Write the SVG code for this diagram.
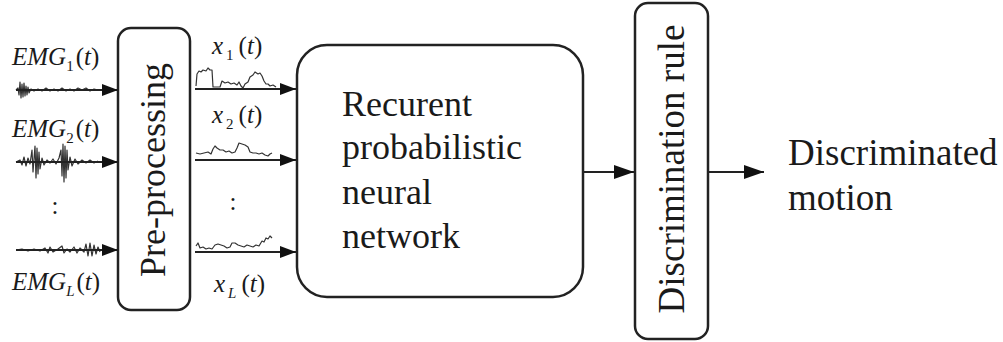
<svg xmlns="http://www.w3.org/2000/svg" width="1003" height="342" viewBox="0 0 1003 342">
  <style>
    .box { fill: #ffffff; stroke: #222222; stroke-width: 2.5; }
    .lbl { font-family: "Liberation Serif", "Times New Roman", serif; fill: #1a1a1a; }
    .big { font-size: 36px; }
    .sig { font-size: 25px; }
    .sub { font-size: 15px; }
    .it { font-style: italic; }
    .link { fill: none; stroke: #222222; stroke-width: 2; }
    .wave { fill: none; stroke: #333333; stroke-width: 1.2; stroke-linejoin: round; }
  </style>
  <defs>
    <marker id="head" markerUnits="userSpaceOnUse" markerWidth="20" markerHeight="14" refX="20" refY="7" orient="auto">
      <path d="M0,0 L20,7 L0,14 Z" fill="#111111"/>
    </marker>
    <marker id="headS" markerUnits="userSpaceOnUse" markerWidth="16" markerHeight="12" refX="16" refY="6" orient="auto">
      <path d="M0,0 L16,6 L0,12 Z" fill="#111111"/>
    </marker>
  </defs>

  <rect width="1003" height="342" fill="#ffffff"/>

  <!-- raw EMG inputs -->
  <g id="emg-inputs">
    <text class="lbl sig" x="12" y="65"><tspan class="it">EMG</tspan><tspan class="sub" dy="6">1</tspan><tspan dy="-6" dx="2">(</tspan><tspan class="it">t</tspan>)</text>
    <text class="lbl sig" x="12" y="137"><tspan class="it">EMG</tspan><tspan class="sub" dy="6">2</tspan><tspan dy="-6" dx="2">(</tspan><tspan class="it">t</tspan>)</text>
    <text class="lbl sig" x="55" y="214" text-anchor="middle">:</text>
    <text class="lbl sig" x="12" y="290"><tspan class="it">EMG</tspan><tspan class="sub it" dy="6">L</tspan><tspan dy="-6" dx="2">(</tspan><tspan class="it">t</tspan>)</text>
    <path class="wave" d="M16,90 L18,88 L19,95 L20,82 L21,98 L22,84 L23,97 L24,83 L25,96 L26,86 L27,95 L28,87 L29,93 L31,89 L34,91 L38,89 L42,91 L46,88 L50,91 L54,89 L58,91 L62,88 L66,91 L70,89 L74,91 L78,88 L82,90 L86,88 L90,91 L94,89 L98,90"/>
    <path class="wave" d="M16,162 L20,160 L22,165 L24,157 L26,166 L28,158 L30,164 L32,150 L33,172 L35,146 L36,178 L37,148 L38,174 L39,152 L40,169 L42,158 L44,165 L47,160 L50,163 L53,159 L56,164 L59,158 L61,150 L62,176 L63,144 L64,182 L65,146 L66,178 L67,150 L68,170 L70,157 L72,166 L75,159 L78,164 L82,160 L86,163 L90,160 L94,163 L98,161"/>
    <path class="wave" d="M16,250 L22,249 L28,251 L34,249 L40,251 L45,248 L48,253 L50,247 L53,252 L58,249 L62,246 L64,253 L67,249 L70,252 L74,247 L77,253 L80,248 L84,252 L86,244 L88,256 L90,243 L92,256 L94,245 L96,254 L98,247 L100,252"/>
  </g>

  <!-- pre-processing block -->
  <g id="preprocessing">
    <rect class="box" x="118" y="28" width="72" height="282" rx="13"/>
    <text class="lbl big" transform="translate(165,170) rotate(-90)" text-anchor="middle">Pre-processing</text>
  </g>

  <!-- pre-processed features -->
  <g id="features">
    <text class="lbl sig" x="212" y="54"><tspan class="it">x</tspan><tspan class="sub" dy="6" dx="3">1</tspan><tspan dy="-6" dx="5">(</tspan><tspan class="it">t</tspan>)</text>
    <text class="lbl sig" x="212" y="123"><tspan class="it">x</tspan><tspan class="sub" dy="6" dx="3">2</tspan><tspan dy="-6" dx="5">(</tspan><tspan class="it">t</tspan>)</text>
    <text class="lbl sig" x="233" y="210" text-anchor="middle">:</text>
    <text class="lbl sig" x="214" y="292"><tspan class="it">x</tspan><tspan class="sub it" dy="6" dx="3">L</tspan><tspan dy="-6" dx="5">(</tspan><tspan class="it">t</tspan>)</text>
    <path class="wave" d="M196,86 L197,74 L199,71 L201,72 L203,70 L206,71 L208,68 L210,70 L212,70 L213,87 L220,87 L222,81 L225,83 L228,82 L231,84 L234,83 L237,85 L239,82 L241,86 L243,88 L245,84 L248,82 L250,77 L253,75 L255,72 L258,74 L260,73 L262,76 L264,81 L266,84 L268,84 L270,86 L273,85 L276,87"/>
    <path class="wave" d="M196,153 L200,154 L204,153 L208,152 L211,154 L213,149 L215,146 L217,148 L220,150 L223,150 L226,152 L229,151 L232,153 L235,152 L237,148 L239,143 L242,144 L245,145 L248,147 L250,152 L253,153 L256,153 L259,154 L262,153 L265,155 L268,156 L270,154 L272,153"/>
    <path class="wave" d="M196,246 L198,243 L200,248 L203,247 L206,249 L209,248 L212,249 L215,245 L218,244 L221,245 L224,246 L227,248 L230,247 L232,243 L235,243 L238,245 L241,246 L244,247 L247,245 L250,246 L253,247 L256,245 L259,246 L262,241 L264,242 L266,238 L268,239 L270,236 L272,238"/>
  </g>

  <!-- recurrent probabilistic neural network -->
  <g id="rpnn">
    <rect class="box" x="297" y="45" width="286" height="252" rx="30"/>
    <text class="lbl big" x="342" y="116">Recurent</text>
    <text class="lbl big" x="342" y="159">probabilistic</text>
    <text class="lbl big" x="342" y="204">neural</text>
    <text class="lbl big" x="342" y="248">network</text>
  </g>

  <!-- decision block -->
  <g id="discrimination-rule">
    <rect class="box" x="635" y="3" width="73" height="336" rx="13"/>
    <text class="lbl big" style="font-size:37px" transform="translate(684,169) rotate(-90)" text-anchor="middle">Discrimination rule</text>
  </g>

  <!-- output label -->
  <g id="output">
    <text class="lbl big" style="font-size:37px" x="788" y="165">Discriminated</text>
    <text class="lbl big" style="font-size:37px" x="788" y="210">motion</text>
  </g>

  <!-- connectors -->
  <g id="connectors">
    <line class="link" x1="16" y1="90" x2="118" y2="90" marker-end="url(#headS)"/>
    <line class="link" x1="16" y1="162" x2="118" y2="162" marker-end="url(#headS)"/>
    <line class="link" x1="16" y1="250" x2="118" y2="250" marker-end="url(#headS)"/>
    <line class="link" x1="195" y1="89" x2="296" y2="89" marker-end="url(#headS)"/>
    <line class="link" x1="195" y1="160" x2="296" y2="160" marker-end="url(#headS)"/>
    <line class="link" x1="195" y1="252" x2="296" y2="252" marker-end="url(#headS)"/>
    <line class="link" x1="584" y1="172" x2="634" y2="172" marker-end="url(#head)"/>
    <line class="link" x1="709" y1="172" x2="764" y2="172" marker-end="url(#head)"/>
  </g>
</svg>
